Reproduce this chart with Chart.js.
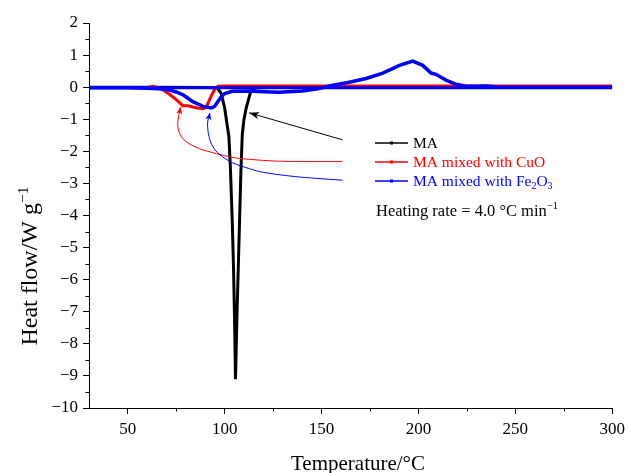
<!DOCTYPE html>
<html>
<head>
<meta charset="utf-8">
<script src="https://cdn.jsdelivr.net/npm/chart.js@4.4.1/dist/chart.umd.min.js"></script>
<style>
  html, body { margin: 0; padding: 0; background: #fff; }
  #wrap { width: 630px; height: 473px; }
</style>
</head>
<body>
<div id="wrap"><canvas id="dsc" width="630" height="473"></canvas></div>
<script>
// ===== Data =====
const xTicks = [50, 100, 150, 200, 250, 300];
const xMinor = [75, 125, 175, 225, 275];
const yTicks = [2, 1, 0, -1, -2, -3, -4, -5, -6, -7, -8, -9, -10];
const yMinor = [1.5, 0.5, -0.5, -1.5, -2.5, -3.5, -4.5, -5.5, -6.5, -7.5, -8.5, -9.5];

// MA
const tempMA = [30, 60, 90, 95, 96.5, 98.2, 100, 101.1, 102.2, 103.0, 103.9, 104.6, 105.1, 105.6,
  106.3, 107.0, 107.7, 108.4, 109.1, 109.9, 111.1, 112.5, 113.7, 116, 130, 200, 300];
const flowMA = [0, 0, -0.01, -0.02, -0.05, -0.19, -0.65, -1.1, -1.55, -2.58, -4.14, -5.69, -7.24, -9.1,
  -7.24, -5.69, -4.14, -2.58, -1.48, -1.03, -0.65, -0.34, -0.08, -0.02, 0, 0, 0];

// MA mixed with CuO
const tempCuO = [30, 50, 60, 63, 65, 68.1, 71.5, 75, 77, 78.5, 81, 83.6, 86, 88.8, 90.5, 92.2, 93.5, 94.8, 96.5, 100, 150, 200, 250, 300];
const flowCuO = [-0.01, -0.01, -0.01, 0.03, 0.0, -0.08, -0.22, -0.39, -0.5, -0.58, -0.58, -0.62, -0.65, -0.67, -0.63, -0.39, -0.22, -0.08, 0.03, 0.04, 0.04, 0.04, 0.04, 0.04];

// MA mixed with Fe2O3
const tempFe = [30, 50, 60, 66, 71.6, 75, 78.5, 83.6, 88.8, 93.1, 94.8, 96.5, 98.2, 100, 104, 112, 120, 128, 140, 148,
  155.8, 163, 173, 181.6, 190.2, 197, 202.2, 206.5, 209, 214.2, 219.4, 224.5, 230, 235, 241.7, 260, 300];
const flowFe = [-0.02, -0.02, -0.03, -0.05, -0.09, -0.15, -0.24, -0.45, -0.6, -0.65, -0.6, -0.45, -0.3, -0.2, -0.13, -0.12, -0.14, -0.16, -0.12, -0.05,
  0.06, 0.14, 0.27, 0.44, 0.68, 0.81, 0.68, 0.44, 0.40, 0.22, 0.09, 0.03, 0.03, 0.04, 0.0, 0.0, 0.0];
const tempFeBase = [30, 300];
const flowFeBase = [-0.02, -0.02];

const toPoints = (xs, ys) => xs.map((x, i) => ({ x: x, y: ys[i] }));

const FONT = "'Liberation Serif', 'Times New Roman', serif";
const RED = '#FF0000';
const BLUE = '#0000FF';

// ===== Annotations (leader lines in data units) =====
const leaderCuO = [[77.2, -0.62], [75.8, -1.12], [76.8, -1.45], [80.2, -1.70], [87.1, -1.92], [95.7, -2.07],
  [104.2, -2.19], [112.8, -2.25], [130, -2.31], [160.8, -2.32]];
const leaderFe = [[92.4, -0.80], [91.2, -1.12], [91.9, -1.54], [93.9, -1.85], [97.4, -2.10], [104.2, -2.36],
  [112.8, -2.54], [121.4, -2.67], [138.6, -2.80], [160.8, -2.90]];
const arrowMA = [[160.8, -1.64], [112.6, -0.80]];

function smoothPath(ctx, pts) {
  ctx.moveTo(pts[0].x, pts[0].y);
  for (let i = 0; i < pts.length - 1; i++) {
    const p0 = pts[i - 1] || pts[i], p1 = pts[i], p2 = pts[i + 1], p3 = pts[i + 2] || p2;
    ctx.bezierCurveTo(p1.x + (p2.x - p0.x) / 6, p1.y + (p2.y - p0.y) / 6,
      p2.x - (p3.x - p1.x) / 6, p2.y - (p3.y - p1.y) / 6, p2.x, p2.y);
  }
}

function arrowHead(ctx, tip, from, len, half, color) {
  const a = Math.atan2(tip.y - from.y, tip.x - from.x);
  ctx.save();
  ctx.fillStyle = color;
  ctx.translate(tip.x, tip.y);
  ctx.rotate(a);
  ctx.beginPath();
  ctx.moveTo(0, 0);
  ctx.lineTo(-len, -half);
  ctx.lineTo(-len * 0.75, 0);
  ctx.lineTo(-len, half);
  ctx.closePath();
  ctx.fill();
  ctx.restore();
}

// texte avec indices / exposants
function drawRich(ctx, parts, x, y, size) {
  let cx = x;
  parts.forEach(p => {
    const s = p.sub || p.sup ? size * 0.65 : size;
    ctx.font = s + 'px ' + FONT;
    const dy = p.sub ? size * 0.3 : (p.sup ? -size * 0.38 : 0);
    ctx.fillText(p.t, cx, y + dy);
    cx += ctx.measureText(p.t).width;
  });
  return cx - x;
}
function richWidth(ctx, parts, size) {
  let w = 0;
  parts.forEach(p => {
    const s = p.sub || p.sup ? size * 0.65 : size;
    ctx.font = s + 'px ' + FONT;
    w += ctx.measureText(p.t).width;
  });
  return w;
}

const decorPlugin = {
  id: 'decor',
  afterDraw(chart) {
    const ctx = chart.ctx;
    const xs = chart.scales.x, ys = chart.scales.y;
    const area = chart.chartArea;
    const px = p => ({ x: xs.getPixelForValue(p[0]), y: ys.getPixelForValue(p[1]) });

    ctx.save();
    // minor ticks
    ctx.strokeStyle = '#000';
    ctx.lineWidth = 1;
    ctx.beginPath();
    xMinor.forEach(v => {
      const x = Math.round(xs.getPixelForValue(v)) + 0.5;
      ctx.moveTo(x, area.bottom);
      ctx.lineTo(x, area.bottom + 3.5);
    });
    yMinor.forEach(v => {
      const y = Math.round(ys.getPixelForValue(v)) + 0.5;
      ctx.moveTo(area.left, y);
      ctx.lineTo(area.left - 3.5, y);
    });
    ctx.stroke();

    // leader lines
    [[leaderCuO, RED], [leaderFe, BLUE]].forEach(([pts, col]) => {
      const p = pts.map(px);
      ctx.strokeStyle = col;
      ctx.lineWidth = 1;
      ctx.beginPath();
      smoothPath(ctx, p);
      ctx.stroke();
      arrowHead(ctx, p[0], p[1], 7, 3, col);
    });

    // black arrow
    const a0 = px(arrowMA[0]), a1 = px(arrowMA[1]);
    ctx.strokeStyle = '#000';
    ctx.lineWidth = 1;
    ctx.beginPath();
    ctx.moveTo(a0.x, a0.y);
    ctx.lineTo(a1.x, a1.y);
    ctx.stroke();
    arrowHead(ctx, a1, a0, 10, 3.5, '#000');

    // legend
    const items = [
      { col: '#000', parts: [{ t: 'MA' }] },
      { col: RED, parts: [{ t: 'MA mixed with CuO' }] },
      { col: BLUE, parts: [{ t: 'MA mixed with Fe' }, { t: '2', sub: 1 }, { t: 'O' }, { t: '3', sub: 1 }] }
    ];
    const lx = area.left + 286, ly = 143, gap = 19;
    ctx.textBaseline = 'middle';
    ctx.textAlign = 'left';
    items.forEach((it, i) => {
      const y = ly + i * gap;
      ctx.strokeStyle = it.col;
      ctx.lineWidth = 1.5;
      ctx.beginPath();
      ctx.moveTo(lx, y);
      ctx.lineTo(lx + 33, y);
      ctx.stroke();
      ctx.fillStyle = it.col;
      ctx.fillRect(lx + 15, y - 1.5, 3, 3);
      drawRich(ctx, it.parts, lx + 38, y + 1, 15.5);
    });

    ctx.fillStyle = '#000';
    drawRich(ctx, [{ t: 'Heating rate = 4.0 \u00B0C min' }, { t: '\u22121', sup: 1 }], area.left + 287, 212, 16.5);

    // axis titles
    ctx.textBaseline = 'alphabetic';
    ctx.font = '21px ' + FONT;
    ctx.textAlign = 'center';
    ctx.fillText('Temperature/\u00B0C', 358, 470);

    const yt = [{ t: 'Heat flow/W g' }, { t: '\u22121', sup: 1 }];
    const w = richWidth(ctx, yt, 24);
    ctx.save();
    ctx.translate(37, 266);
    ctx.rotate(-Math.PI / 2);
    ctx.textAlign = 'left';
    drawRich(ctx, yt, -w / 2, 0, 24);
    ctx.restore();

    ctx.restore();
  }
};

const tickFont = { family: FONT, size: 17 };

new Chart(document.getElementById('dsc'), {
  type: 'scatter',
  data: {
    datasets: [
      { label: 'MA mixed with Fe2O3', data: toPoints(tempFe, flowFe), borderColor: BLUE, backgroundColor: BLUE,
        borderWidth: 3.5, showLine: true, pointRadius: 0, order: 0 },
      { label: 'Fe2O3 baseline', data: toPoints(tempFeBase, flowFeBase), borderColor: BLUE, backgroundColor: BLUE,
        borderWidth: 3, showLine: true, pointRadius: 0, order: 1 },
      { label: 'MA mixed with CuO', data: toPoints(tempCuO, flowCuO), borderColor: RED, backgroundColor: RED,
        borderWidth: 3, showLine: true, pointRadius: 0, order: 2 },
      { label: 'MA', data: toPoints(tempMA, flowMA), borderColor: '#000', backgroundColor: '#000',
        borderWidth: 3, showLine: true, pointRadius: 0, order: 3 }
    ]
  },
  options: {
    responsive: false,
    animation: false,
    devicePixelRatio: 1,
    layout: { padding: { top: 23, right: 16, bottom: 0, left: 0 } },
    plugins: { legend: { display: false }, tooltip: { enabled: false } },
    scales: {
      x: {
        type: 'linear', min: 30, max: 300,
        border: { color: '#000', width: 1 },
        grid: { drawOnChartArea: false, drawTicks: true, tickLength: 6, color: '#000' },
        ticks: { font: tickFont, color: '#000', padding: 5, maxRotation: 0, autoSkip: false },
        afterBuildTicks: s => { s.ticks = xTicks.map(v => ({ value: v })); },
        afterFit: s => { s.height = 65; }
      },
      y: {
        type: 'linear', min: -10, max: 2,
        border: { color: '#000', width: 1 },
        grid: { drawOnChartArea: false, drawTicks: true, tickLength: 6, color: '#000' },
        ticks: { font: tickFont, color: '#000', padding: 5, autoSkip: false,
          callback: v => (v < 0 ? '\u2212' + Math.abs(v) : String(v)) },
        afterBuildTicks: s => { s.ticks = yTicks.map(v => ({ value: v })); },
        afterFit: s => { s.width = 89; }
      }
    }
  },
  plugins: [decorPlugin]
});
</script>
</body>
</html>
